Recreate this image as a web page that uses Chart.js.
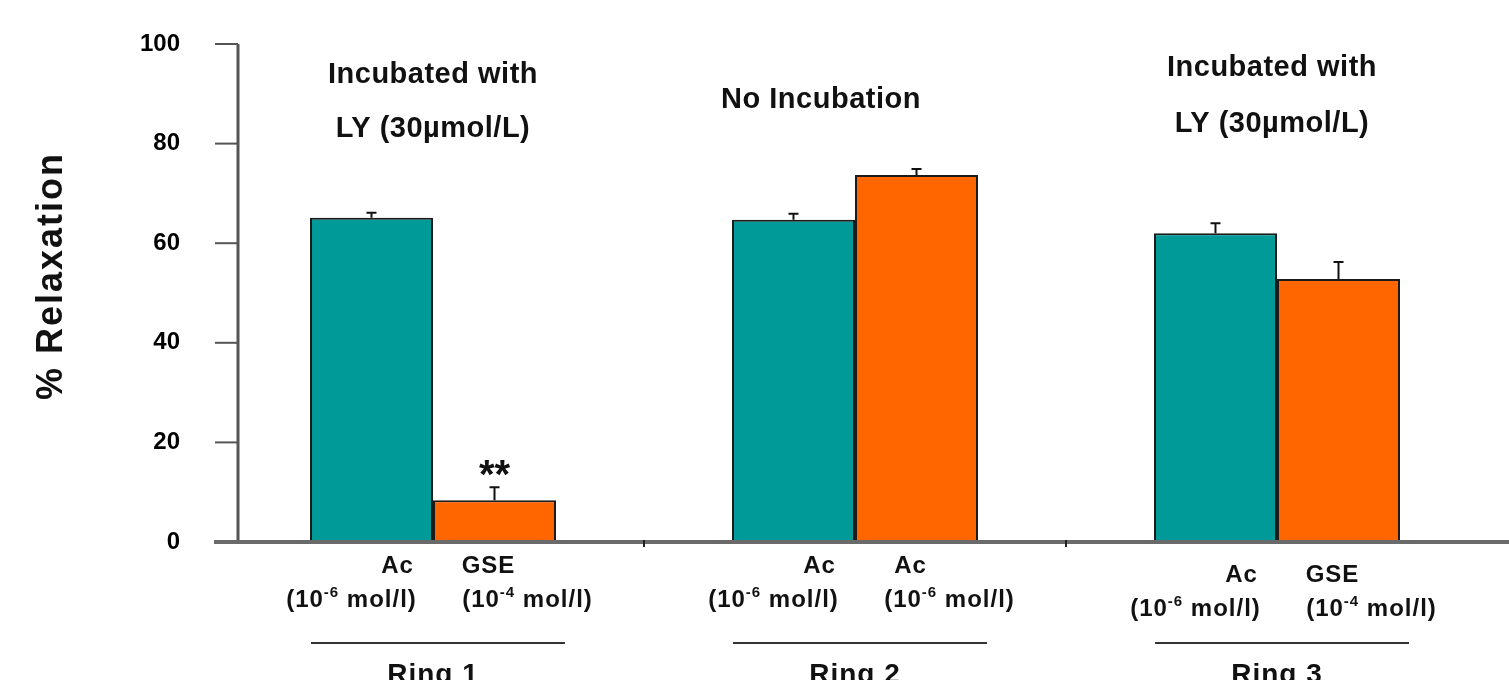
<!DOCTYPE html>
<html>
<head>
<meta charset="utf-8">
<script src="https://cdn.jsdelivr.net/npm/chart.js@4.4.0/dist/chart.umd.min.js"></script>
<style>
  html, body { margin: 0; padding: 0; background: #fff; }
</style>
</head>
<body>
<canvas id="chart" width="1509" height="680"></canvas>
<script>
// Data
const groups = ['Ring 1', 'Ring 2', 'Ring 3'];
const tealValues = [65.1, 64.7, 62.0];
const tealErrors = [1.0, 1.2, 2.0];
const orangeValues = [8.4, 73.7, 52.8];
const orangeErrors = [2.6, 1.2, 3.4];
const tealAgents = ['Ac', 'Ac', 'Ac'];
const tealExponents = ['-6', '-6', '-6'];
const orangeAgents = ['GSE', 'Ac', 'GSE'];
const orangeExponents = ['-4', '-6', '-4'];
const orangeMarks = ['**', '', ''];
const groupNotes = [
    ['Incubated with', 'LY (30\u00b5mol/L)'],
    ['No Incubation'],
    ['Incubated with', 'LY (30\u00b5mol/L)']
];
const yTickStep = 20;

const FONT = "'Liberation Sans', Arial, sans-serif";
const TEAL = '#009a98';
const ORANGE = '#ff6600';

// where the group notes sit (dx from group centre, baselines in % units)
const notePlacement = [
    { dx: 0, ys: [92.2, 81.3] },
    { dx: -34, ys: [87.1] },
    { dx: -5, ys: [93.6, 82.3] }
];

function drawRich(ctx, parts, x, y, size) {
    // parts: [text, isSup]
    let total = 0;
    const widths = parts.map(p => {
        ctx.font = 'bold ' + (p[1] ? Math.round(size * 0.62) : size) + 'px ' + FONT;
        const w = ctx.measureText(p[0]).width;
        total += w;
        return w;
    });
    let cx = x - total / 2;
    ctx.textAlign = 'left';
    parts.forEach((p, i) => {
        ctx.font = 'bold ' + (p[1] ? Math.round(size * 0.62) : size) + 'px ' + FONT;
        ctx.fillText(p[0], cx, p[1] ? y - size * 0.4 : y);
        cx += widths[i];
    });
}

const decorPlugin = {
    id: 'decor',
    afterDatasetsDraw(chart) {
        const ctx = chart.ctx;
        const area = chart.chartArea;
        const xs = chart.scales.x;
        const ys = chart.scales.y;
        const axisX = area.left + 16;

        ctx.save();
        ctx.lineCap = 'butt';

        // y axis line + tick marks
        ctx.strokeStyle = '#555';
        ctx.lineWidth = 3;
        ctx.beginPath();
        ctx.moveTo(axisX, ys.getPixelForValue(ys.max));
        ctx.lineTo(axisX, ys.getPixelForValue(0));
        ctx.stroke();
        ctx.lineWidth = 2;
        ys.ticks.forEach(t => {
            const py = ys.getPixelForValue(t.value);
            ctx.beginPath();
            ctx.moveTo(area.left - 7, py);
            ctx.lineTo(axisX, py);
            ctx.stroke();
        });

        // x axis line + category separators
        ctx.strokeStyle = '#6a6a6a';
        ctx.lineWidth = 4;
        const by = ys.getPixelForValue(0);
        ctx.beginPath();
        ctx.moveTo(area.left - 8, by);
        ctx.lineTo(chart.width, by);
        ctx.stroke();
        ctx.strokeStyle = '#222';
        ctx.lineWidth = 2;
        for (let i = 0; i < groups.length - 1; i++) {
            const px = (xs.getPixelForValue(i) + xs.getPixelForValue(i + 1)) / 2;
            ctx.beginPath();
            ctx.moveTo(px, by - 2);
            ctx.lineTo(px, by + 5);
            ctx.stroke();
        }

        // error bars (upper only)
        const errs = [tealErrors, orangeErrors];
        const vals = [tealValues, orangeValues];
        ctx.strokeStyle = '#111';
        ctx.lineWidth = 2;
        chart.data.datasets.forEach((ds, di) => {
            chart.getDatasetMeta(di).data.forEach((bar, i) => {
                const top = ys.getPixelForValue(vals[di][i] + errs[di][i]);
                ctx.beginPath();
                ctx.moveTo(bar.x, bar.y);
                ctx.lineTo(bar.x, top);
                ctx.moveTo(bar.x - 5, top);
                ctx.lineTo(bar.x + 5, top);
                ctx.stroke();
                if (di === 1 && orangeMarks[i]) {
                    ctx.fillStyle = '#111';
                    ctx.font = 'bold 40px ' + FONT;
                    ctx.textAlign = 'center';
                    ctx.textBaseline = 'alphabetic';
                    ctx.fillText(orangeMarks[i], bar.x, top + 1);
                }
            });
        });

        // category labels under each bar
        ctx.fillStyle = '#111';
        ctx.textBaseline = 'alphabetic';
        ctx.letterSpacing = '1px';
        const tealMeta = chart.getDatasetMeta(0).data;
        const orangeMeta = chart.getDatasetMeta(1).data;
        const rowShift = [0, 0, 9];
        groups.forEach((g, i) => {
            const b1 = by + 31 + rowShift[i];
            const b2 = by + 65 + rowShift[i];
            ctx.font = 'bold 24px ' + FONT;
            ctx.textAlign = 'center';
            ctx.fillText(tealAgents[i], tealMeta[i].x + 26, b1);
            ctx.fillText(orangeAgents[i], orangeMeta[i].x - 6, b1);
            drawRich(ctx, [['(10', false], [tealExponents[i], true], [' mol/l)', false]], tealMeta[i].x - 20, b2, 24);
            drawRich(ctx, [['(10', false], [orangeExponents[i], true], [' mol/l)', false]], orangeMeta[i].x + 33, b2, 24);

            // ring bracket + label
            const cx = xs.getPixelForValue(i);
            ctx.strokeStyle = '#333';
            ctx.lineWidth = 2;
            ctx.beginPath();
            ctx.moveTo(cx - 122, by + 101);
            ctx.lineTo(cx + 132, by + 101);
            ctx.stroke();
            ctx.font = 'bold 28px ' + FONT;
            ctx.textAlign = 'center';
            ctx.fillText(g, cx, by + 141);
        });

        // notes above the groups
        ctx.letterSpacing = '0.5px';
        ctx.font = 'bold 29px ' + FONT;
        ctx.textAlign = 'center';
        groupNotes.forEach((lines, i) => {
            const cx = xs.getPixelForValue(i) + notePlacement[i].dx;
            lines.forEach((txt, k) => {
                ctx.fillText(txt, cx, ys.getPixelForValue(notePlacement[i].ys[k]));
            });
        });

        // y title
        ctx.letterSpacing = '2px';
        ctx.font = 'bold 36px ' + FONT;
        ctx.translate(52, (area.top + area.bottom) / 2 - 17);
        ctx.rotate(-Math.PI / 2);
        ctx.textAlign = 'center';
        ctx.textBaseline = 'middle';
        ctx.fillText('% Relaxation', 0, 0);
        ctx.restore();
    }
};

new Chart(document.getElementById('chart'), {
    type: 'bar',
    data: {
        labels: groups,
        datasets: [
            {
                data: tealValues,
                backgroundColor: TEAL,
                borderColor: '#1b1b1b',
                borderWidth: 2,
                categoryPercentage: 0.583,
                barPercentage: 1.0
            },
            {
                data: orangeValues,
                backgroundColor: ORANGE,
                borderColor: '#1b1b1b',
                borderWidth: 2,
                categoryPercentage: 0.583,
                barPercentage: 1.0
            }
        ]
    },
    options: {
        responsive: false,
        animation: false,
        layout: { padding: { top: 44, right: 21, bottom: 138, left: 0 } },
        plugins: {
            legend: { display: false },
            tooltip: { enabled: false }
        },
        scales: {
            x: { display: false },
            y: {
                min: 0,
                max: 100,
                ticks: {
                    stepSize: yTickStep,
                    padding: 42,
                    color: '#000',
                    font: { family: FONT, size: 24, weight: 'bold' }
                },
                grid: { display: false, drawTicks: false },
                border: { display: false },
                afterFit: function(scale) {
                    scale.width = 222;
                    // tick padding is meant to be horizontal only here
                    scale.paddingTop = 0;
                    scale.paddingBottom = 0;
                }
            }
        }
    },
    plugins: [decorPlugin]
});
</script>
</body>
</html>
